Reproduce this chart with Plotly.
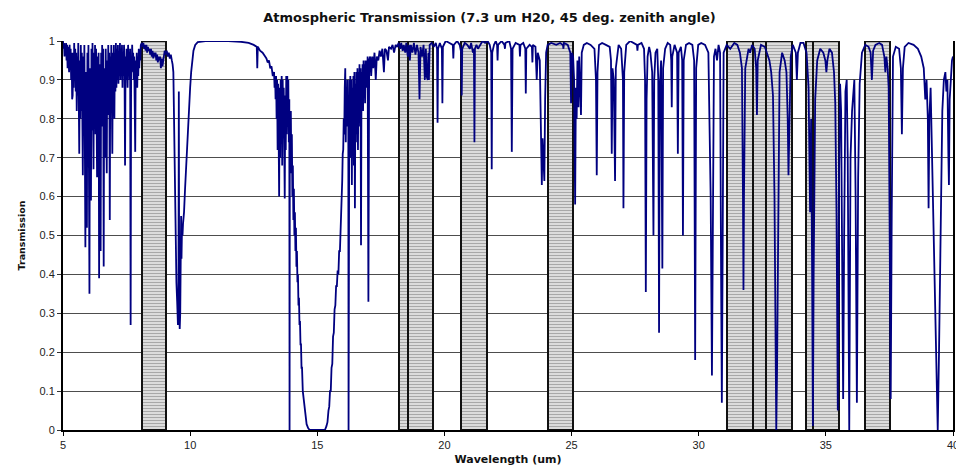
import plotly.graph_objects as go

# ---- Spectrum: (wavelength um, transmission) ----
seg_05_08 = [
    (5.00, 1.00), (5.02, 0.98), (5.04, 0.995), (5.06, 0.96), (5.08, 0.99), (5.10, 0.97),
    (5.12, 0.995), (5.14, 0.95), (5.16, 0.99), (5.18, 0.93), (5.20, 0.985), (5.22, 0.96),
    (5.24, 0.92), (5.26, 0.99), (5.28, 0.94), (5.30, 0.98), (5.32, 0.90), (5.34, 0.97),
    (5.36, 0.85), (5.38, 0.86), (5.40, 0.97), (5.42, 0.88), (5.44, 0.995), (5.46, 0.90),
    (5.48, 0.98), (5.50, 0.87), (5.52, 0.97), (5.54, 0.82), (5.56, 0.96), (5.58, 0.86),
    (5.60, 0.995), (5.62, 0.80), (5.64, 0.71), (5.66, 0.95), (5.68, 0.80), (5.70, 0.99),
    (5.72, 0.82), (5.74, 0.97), (5.76, 0.78), (5.78, 0.655), (5.80, 0.96), (5.82, 0.79),
    (5.84, 0.99), (5.86, 0.75), (5.88, 0.47), (5.90, 0.92), (5.92, 0.74), (5.94, 0.52),
    (5.96, 0.97), (5.98, 0.76), (6.00, 0.99), (6.02, 0.78), (6.04, 0.35), (6.06, 0.93),
    (6.08, 0.75), (6.10, 0.59), (6.12, 0.98), (6.14, 0.77), (6.16, 0.995), (6.18, 0.74),
    (6.20, 0.67), (6.22, 0.97), (6.24, 0.80), (6.26, 0.99), (6.28, 0.76), (6.30, 0.98),
    (6.32, 0.75), (6.34, 0.65), (6.36, 0.96), (6.38, 0.78), (6.40, 0.97), (6.42, 0.39),
    (6.44, 0.94), (6.46, 0.76), (6.48, 0.46), (6.50, 0.97), (6.52, 0.80), (6.54, 0.99),
    (6.56, 0.78), (6.58, 0.98), (6.60, 0.42), (6.62, 0.93), (6.64, 0.80), (6.66, 0.70),
    (6.68, 0.98), (6.70, 0.79), (6.72, 0.66), (6.74, 0.95), (6.76, 0.82), (6.78, 0.99),
    (6.80, 0.81), (6.82, 0.97), (6.84, 0.54), (6.86, 0.96), (6.88, 0.83), (6.90, 0.99),
    (6.92, 0.84), (6.94, 0.71), (6.96, 0.97), (6.98, 0.86), (7.00, 0.99), (7.02, 0.80),
    (7.04, 0.97), (7.06, 0.87), (7.08, 0.995), (7.10, 0.88), (7.12, 0.98), (7.14, 0.90),
    (7.16, 0.99), (7.18, 0.89), (7.20, 0.97), (7.22, 0.91), (7.24, 0.995), (7.26, 0.90),
    (7.28, 0.98), (7.30, 0.92), (7.32, 0.99), (7.34, 0.88), (7.36, 0.97), (7.38, 0.91),
    (7.40, 0.99), (7.42, 0.92), (7.44, 0.68), (7.46, 0.96), (7.48, 0.90), (7.50, 0.98),
    (7.52, 0.91), (7.54, 0.88), (7.56, 0.99), (7.58, 0.92), (7.60, 0.97), (7.62, 0.90),
    (7.64, 0.98), (7.66, 0.27), (7.68, 0.96), (7.70, 0.92), (7.72, 0.99), (7.74, 0.93),
    (7.76, 0.97), (7.78, 0.90), (7.80, 0.96), (7.82, 0.88), (7.84, 0.715), (7.86, 0.95),
    (7.88, 0.90), (7.90, 0.97), (7.92, 0.88), (7.94, 0.96), (7.96, 0.91), (7.98, 0.98),
    (8.00, 0.93), (8.02, 0.97), (8.04, 0.95), (8.06, 0.99),
]
seg_08_11 = [
    (8.10, 0.995), (8.13, 0.985), (8.16, 0.995), (8.19, 0.98), (8.22, 0.99), (8.25, 0.975),
    (8.28, 0.99), (8.31, 0.97), (8.34, 0.985), (8.37, 0.975), (8.40, 0.98), (8.43, 0.965),
    (8.46, 0.98), (8.49, 0.96), (8.52, 0.975), (8.55, 0.955), (8.58, 0.97), (8.61, 0.96),
    (8.64, 0.97), (8.67, 0.95), (8.70, 0.965), (8.73, 0.945), (8.76, 0.96), (8.79, 0.95),
    (8.82, 0.96), (8.85, 0.93), (8.88, 0.955), (8.91, 0.935), (8.94, 0.95), (8.97, 0.965),
    (9.00, 0.975), (9.04, 0.965), (9.08, 0.975), (9.12, 0.96), (9.16, 0.97), (9.20, 0.955),
    (9.24, 0.965), (9.28, 0.95), (9.31, 0.94), (9.34, 0.92), (9.37, 0.80), (9.40, 0.62),
    (9.43, 0.45), (9.46, 0.38), (9.49, 0.33), (9.52, 0.27), (9.54, 0.31), (9.555, 0.87),
    (9.57, 0.32), (9.59, 0.26), (9.61, 0.30), (9.63, 0.40), (9.645, 0.55), (9.66, 0.44),
    (9.68, 0.52), (9.70, 0.50), (9.72, 0.53), (9.76, 0.56), (9.80, 0.62), (9.84, 0.68),
    (9.87, 0.72), (9.90, 0.76), (9.93, 0.80), (9.96, 0.84), (10.00, 0.88), (10.04, 0.92),
    (10.08, 0.95), (10.13, 0.975), (10.20, 0.99), (10.30, 0.997), (10.60, 1.00),
]
seg_11_13 = [
    (11.00, 1.00), (11.50, 1.00), (12.00, 0.998), (12.30, 0.995), (12.50, 0.99),
    (12.62, 0.985), (12.64, 0.93), (12.66, 0.985), (12.75, 0.975), (12.85, 0.97),
    (12.95, 0.96), (13.00, 0.955), (13.05, 0.945), (13.10, 0.95), (13.15, 0.93),
    (13.20, 0.935), (13.25, 0.91),
]
seg_13_15 = [
    (13.30, 0.92), (13.32, 0.88), (13.34, 0.91), (13.36, 0.85), (13.38, 0.91), (13.40, 0.80),
    (13.42, 0.90), (13.44, 0.72), (13.46, 0.89), (13.48, 0.76), (13.50, 0.60), (13.52, 0.88),
    (13.54, 0.70), (13.56, 0.90), (13.58, 0.74), (13.60, 0.91), (13.62, 0.68), (13.64, 0.90),
    (13.66, 0.75), (13.68, 0.88), (13.70, 0.66), (13.72, 0.595), (13.74, 0.86), (13.76, 0.72),
    (13.78, 0.91), (13.80, 0.76), (13.82, 0.91), (13.84, 0.78), (13.86, 0.90), (13.88, 0.74),
    (13.90, 0.85), (13.91, 0.00), (13.92, 0.80), (13.94, 0.70), (13.96, 0.82), (13.98, 0.66),
    (14.00, 0.76), (14.02, 0.60), (14.04, 0.68), (14.06, 0.54), (14.08, 0.62), (14.10, 0.50),
    (14.12, 0.56), (14.14, 0.46), (14.16, 0.52), (14.18, 0.42), (14.20, 0.46), (14.22, 0.38),
    (14.24, 0.40), (14.26, 0.32), (14.28, 0.34), (14.30, 0.27), (14.32, 0.28), (14.34, 0.22),
    (14.36, 0.22), (14.38, 0.16), (14.40, 0.16), (14.43, 0.10), (14.46, 0.08), (14.50, 0.05),
    (14.54, 0.03), (14.58, 0.015), (14.64, 0.005), (14.70, 0.00), (15.00, 0.00),
]
seg_15_18 = [
    (15.30, 0.00), (15.36, 0.01), (15.40, 0.02), (15.44, 0.05), (15.47, 0.06), (15.50, 0.10),
    (15.53, 0.10), (15.56, 0.16), (15.59, 0.17), (15.62, 0.24), (15.65, 0.25), (15.68, 0.31),
    (15.71, 0.32), (15.74, 0.37), (15.77, 0.37), (15.80, 0.41), (15.83, 0.40), (15.86, 0.46),
    (15.89, 0.46), (15.92, 0.52), (15.94, 0.55), (15.96, 0.62), (15.98, 0.64), (16.00, 0.71),
    (16.02, 0.72), (16.04, 0.80), (16.06, 0.76), (16.08, 0.88), (16.10, 0.93), (16.12, 0.74),
    (16.14, 0.88), (16.16, 0.78), (16.18, 0.90), (16.20, 0.80), (16.22, 0.86), (16.23, 0.00),
    (16.24, 0.80), (16.26, 0.90), (16.28, 0.74), (16.30, 0.91), (16.32, 0.70), (16.34, 0.90),
    (16.36, 0.63), (16.38, 0.88), (16.40, 0.72), (16.42, 0.91), (16.44, 0.68), (16.46, 0.92),
    (16.48, 0.57), (16.50, 0.89), (16.52, 0.74), (16.54, 0.92), (16.56, 0.76), (16.58, 0.93),
    (16.60, 0.72), (16.62, 0.92), (16.64, 0.80), (16.66, 0.94), (16.68, 0.78), (16.70, 0.93),
    (16.72, 0.475), (16.74, 0.92), (16.76, 0.84), (16.78, 0.94), (16.80, 0.82), (16.82, 0.95),
    (16.84, 0.86), (16.86, 0.94), (16.88, 0.84), (16.90, 0.95), (16.92, 0.88), (16.94, 0.95),
    (16.96, 0.89), (16.98, 0.96), (17.01, 0.33), (17.04, 0.95), (17.08, 0.96), (17.12, 0.91),
    (17.16, 0.96), (17.20, 0.93), (17.25, 0.97), (17.30, 0.90), (17.34, 0.96), (17.40, 0.95),
    (17.45, 0.975), (17.50, 0.96), (17.56, 0.98), (17.62, 0.92), (17.66, 0.98), (17.72, 0.975),
    (17.78, 0.95), (17.82, 0.985), (17.90, 0.98), (17.96, 0.99), (18.02, 0.97), (18.08, 0.99),
    (18.14, 0.985),
]
seg_18_25 = [
    (18.20, 0.995), (18.26, 0.98), (18.30, 0.995), (18.36, 0.975), (18.40, 0.99), (18.46, 0.97),
    (18.50, 0.995), (18.56, 0.96), (18.60, 0.99), (18.64, 0.95), (18.68, 0.99), (18.74, 0.97),
    (18.80, 0.995), (18.86, 0.965), (18.92, 0.99), (18.98, 0.97), (19.02, 0.85), (19.06, 0.985),
    (19.12, 0.96), (19.18, 0.99), (19.23, 0.90), (19.27, 0.98), (19.30, 0.91), (19.34, 0.90),
    (19.37, 0.97), (19.39, 0.90), (19.42, 0.99), (19.50, 0.995), (19.58, 0.985), (19.66, 0.995),
    (19.71, 0.98), (19.73, 0.79), (19.75, 0.98), (19.82, 0.995), (19.90, 0.98), (19.92, 0.84),
    (19.94, 0.985), (20.05, 1.00), (20.20, 0.995), (20.33, 0.99), (20.35, 0.955), (20.37, 0.99),
    (20.50, 1.00), (20.60, 0.99), (20.66, 0.97), (20.68, 0.86), (20.70, 0.98), (20.80, 0.995),
    (20.90, 0.99), (21.00, 0.98), (21.05, 0.995), (21.12, 0.97), (21.16, 0.98), (21.18, 0.74),
    (21.20, 0.98), (21.26, 0.99), (21.32, 0.98), (21.40, 0.99), (21.50, 1.00), (21.60, 0.995),
    (21.70, 1.00), (21.78, 0.99), (21.84, 0.97), (21.86, 0.67), (21.88, 0.97), (21.95, 0.99),
    (22.02, 1.00), (22.07, 0.99), (22.09, 0.95), (22.11, 0.99), (22.25, 1.00), (22.36, 0.99),
    (22.38, 0.98), (22.40, 0.995), (22.55, 1.00), (22.62, 0.98), (22.65, 0.715), (22.68, 0.98),
    (22.80, 0.995), (22.95, 0.99), (22.97, 0.96), (22.99, 0.99), (23.10, 0.995), (23.18, 0.98),
    (23.20, 0.865), (23.22, 0.98), (23.35, 0.99), (23.44, 0.985), (23.46, 0.945), (23.48, 0.99),
    (23.58, 0.985), (23.63, 0.90), (23.67, 0.97), (23.75, 0.95), (23.80, 0.80), (23.83, 0.63),
    (23.86, 0.75), (23.90, 0.70), (23.93, 0.64), (23.96, 0.85), (24.00, 0.97), (24.06, 0.99),
    (24.20, 0.995), (24.40, 0.99), (24.55, 0.995), (24.66, 0.99), (24.68, 0.98), (24.70, 0.995),
    (24.85, 0.99), (24.95, 0.97), (24.98, 0.84), (25.01, 0.97), (25.06, 0.96),
]
seg_25_30 = [
    (25.10, 0.90), (25.14, 0.58), (25.17, 0.88), (25.20, 0.80), (25.23, 0.95), (25.27, 0.83),
    (25.30, 0.96), (25.37, 0.81), (25.40, 0.97), (25.48, 0.99), (25.60, 0.995), (25.75, 0.99),
    (25.90, 0.98), (25.96, 0.90), (25.99, 0.655), (26.02, 0.92), (26.08, 0.99), (26.20, 0.995),
    (26.35, 0.99), (26.50, 0.985), (26.55, 0.95), (26.58, 0.71), (26.61, 0.93), (26.66, 0.90),
    (26.71, 0.64), (26.74, 0.93), (26.85, 0.99), (26.95, 0.98), (27.02, 0.90), (27.04, 0.57),
    (27.07, 0.92), (27.15, 0.99), (27.30, 1.00), (27.45, 0.995), (27.57, 0.99), (27.59, 0.975),
    (27.61, 0.99), (27.75, 0.995), (27.85, 0.98), (27.89, 0.90), (27.92, 0.355), (27.95, 0.85),
    (27.99, 0.96), (28.05, 0.985), (28.10, 0.97), (28.17, 0.92), (28.22, 0.50), (28.25, 0.90),
    (28.30, 0.97), (28.37, 0.98), (28.41, 0.90), (28.44, 0.25), (28.47, 0.88), (28.52, 0.95),
    (28.57, 0.415), (28.60, 0.93), (28.68, 0.98), (28.78, 0.995), (28.88, 0.99), (28.92, 0.95),
    (28.94, 0.83), (28.96, 0.96), (29.05, 0.99), (29.15, 0.97), (29.18, 0.71), (29.21, 0.97),
    (29.30, 0.985), (29.35, 0.95), (29.38, 0.50), (29.41, 0.95), (29.50, 0.99), (29.62, 0.995),
    (29.75, 0.99), (29.82, 0.95), (29.86, 0.18), (29.90, 0.93), (29.98, 0.99),
]
seg_30_35 = [
    (30.10, 0.995), (30.25, 0.99), (30.38, 0.97), (30.43, 0.73), (30.47, 0.60), (30.52, 0.14),
    (30.56, 0.60), (30.60, 0.96), (30.66, 0.98), (30.72, 0.95), (30.78, 0.99), (30.84, 0.97),
    (30.88, 0.40), (30.91, 0.07), (30.94, 0.45), (30.98, 0.97), (31.10, 0.99), (31.24, 0.98),
    (31.40, 0.995), (31.52, 0.99), (31.62, 0.97), (31.70, 0.93), (31.74, 0.60), (31.76, 0.36),
    (31.78, 0.60), (31.83, 0.93), (31.96, 0.98), (32.02, 0.97), (32.10, 0.99), (32.20, 0.98),
    (32.26, 0.93), (32.29, 0.81), (32.32, 0.95), (32.45, 0.99), (32.60, 0.985), (32.68, 0.97),
    (32.78, 0.95), (32.85, 0.92), (32.92, 0.86), (32.98, 0.60), (33.02, 0.15), (33.05, 0.00),
    (33.08, 0.15), (33.13, 0.60), (33.18, 0.92), (33.28, 0.97), (33.38, 0.95), (33.45, 0.92),
    (33.50, 0.80), (33.53, 0.655), (33.56, 0.80), (33.62, 0.96), (33.70, 0.99), (33.82, 0.97),
    (33.86, 0.90), (33.90, 0.97), (34.00, 0.995), (34.12, 0.995), (34.24, 0.97), (34.32, 0.88),
    (34.38, 0.56), (34.42, 0.80), (34.46, 0.40), (34.49, 0.01), (34.52, 0.40), (34.58, 0.85),
    (34.66, 0.95), (34.78, 0.98), (34.90, 0.97), (34.98, 0.95), (35.02, 0.92), (35.06, 0.95),
    (35.14, 0.98), (35.24, 0.97), (35.32, 0.92), (35.37, 0.84), (35.42, 0.55), (35.47, 0.05),
    (35.51, 0.60), (35.56, 0.89),
]
seg_35_40 = [
    (35.60, 0.82), (35.64, 0.50), (35.68, 0.08), (35.72, 0.50), (35.77, 0.87), (35.82, 0.90),
    (35.86, 0.70), (35.92, 0.00), (35.97, 0.70), (36.03, 0.82), (36.08, 0.88), (36.12, 0.90),
    (36.17, 0.60), (36.22, 0.07), (36.27, 0.65), (36.33, 0.89), (36.42, 0.97), (36.55, 0.99),
    (36.68, 0.985), (36.76, 0.97), (36.81, 0.90), (36.86, 0.975), (36.95, 0.99), (37.10, 0.995),
    (37.21, 0.99), (37.30, 0.96), (37.34, 0.92), (37.38, 0.96), (37.43, 0.93), (37.47, 0.88),
    (37.51, 0.50), (37.55, 0.08), (37.59, 0.55), (37.64, 0.96), (37.75, 0.985), (37.88, 0.98),
    (37.95, 0.93), (37.99, 0.76), (38.03, 0.93), (38.10, 0.985), (38.25, 0.995), (38.45, 0.99),
    (38.62, 0.98), (38.75, 0.96), (38.85, 0.93), (38.91, 0.85), (38.96, 0.90), (39.01, 0.80),
    (39.04, 0.57), (39.07, 0.80), (39.12, 0.88), (39.20, 0.62), (39.28, 0.30), (39.35, 0.08),
    (39.40, 0.00), (39.45, 0.20), (39.52, 0.60), (39.58, 0.82), (39.64, 0.90), (39.70, 0.92),
    (39.74, 0.87), (39.78, 0.90), (39.82, 0.70), (39.84, 0.63), (39.87, 0.85), (39.92, 0.93),
    (39.96, 0.95), (40.00, 0.96),
]

# ---- Hatched instrument bands (um) ----
band_start = [8.10, 18.20, 18.55, 20.65, 24.06, 31.11, 32.12, 32.63, 34.20, 34.50, 36.54]
band_end = [9.07, 19.25, 19.56, 21.66, 25.07, 32.12, 33.11, 33.67, 35.21, 35.52, 37.53]

# ---- Axis ticks ----
x_ticks = [5, 10, 15, 20, 25, 30, 35, 40]
y_ticks = [0, 0.1, 0.2, 0.3, 0.4, 0.5, 0.6, 0.7, 0.8, 0.9, 1]

segments = [seg_05_08, seg_08_11, seg_11_13, seg_13_15, seg_15_18, seg_18_25,
            seg_25_30, seg_30_35, seg_35_40]
wavelength_um = [p[0] for s in segments for p in s]
transmission = [p[1] for s in segments for p in s]

band_center = [(a + b) / 2 for a, b in zip(band_start, band_end)]
band_width = [b - a for a, b in zip(band_start, band_end)]

fig = go.Figure()
fig.add_trace(go.Bar(
    x=band_center, y=[1] * len(band_center), width=band_width, base=0,
    marker=dict(
        color="#d4d4d4",
        pattern=dict(shape="-", fgcolor="#a8a8a8", bgcolor="#e2e2e2", size=3, solidity=0.4,
                     fillmode="replace"),
        line=dict(color="#111111", width=2),
    ),
    hoverinfo="skip",
))
fig.add_trace(go.Scatter(
    x=wavelength_um, y=transmission, mode="lines",
    line=dict(color="#000080", width=1.8),
))

tick_font = dict(family="Liberation Sans, Arial, sans-serif", size=11, color="#222222")
fig.update_layout(
    width=956, height=469,
    margin=dict(l=63, r=3, t=41, b=39),
    paper_bgcolor="white", plot_bgcolor="white",
    showlegend=False, barmode="overlay", bargap=0,
    title=dict(
        text="<b>Atmospheric Transmission (7.3 um H20, 45 deg. zenith angle)</b>",
        font=dict(family="DejaVu Sans, sans-serif", size=13, color="#111111"),
        x=0.512, xref="container", xanchor="center",
        y=1 - 17 / 469, yref="container", yanchor="middle",
    ),
    xaxis=dict(
        range=[5, 40], tickvals=x_ticks, ticktext=[str(v) for v in x_ticks],
        showline=True, linecolor="black", linewidth=2, mirror=False,
        ticks="outside", ticklen=4, tickcolor="black", tickwidth=1,
        showgrid=False, zeroline=False, tickfont=tick_font,
        automargin=False, ticklabeloverflow="allow",
        title=dict(text="<b>Wavelength (um)</b>", standoff=5,
                   font=dict(family="DejaVu Sans, sans-serif", size=11, color="#111111")),
    ),
    yaxis=dict(
        range=[0, 1], tickvals=y_ticks, ticktext=[("%g" % v) for v in y_ticks],
        showline=True, linecolor="black", linewidth=2, mirror=True,
        ticks="outside", ticklen=4, tickcolor="#333333", tickwidth=1,
        showgrid=True, gridcolor="#4d4d4d", gridwidth=1, zeroline=False,
        tickfont=tick_font, automargin=False,
        title=dict(text="<b>Transmission</b>", standoff=12,
                   font=dict(family="DejaVu Sans, sans-serif", size=9.5, color="#111111")),
    ),
)

fig.write_html("out.html")
